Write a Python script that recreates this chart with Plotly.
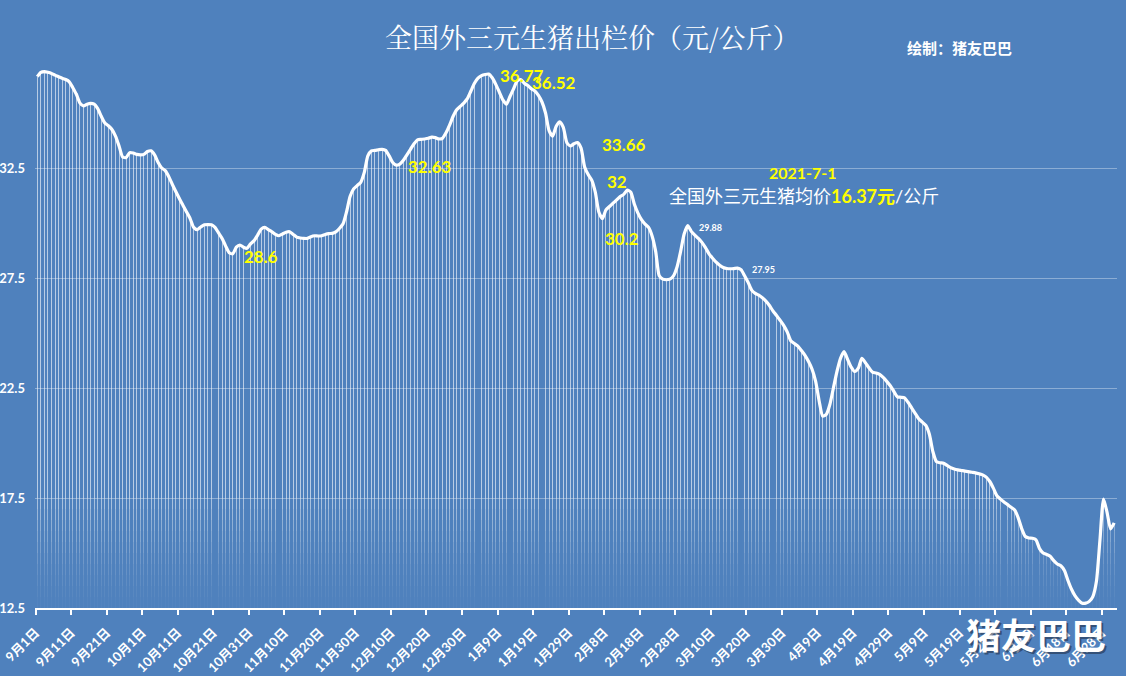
import plotly.graph_objects as go

# ---------------- data ----------------
tick_labels = ["9月1日", "9月11日", "9月21日", "10月1日", "10月11日", "10月21日", "10月31日",
               "11月10日", "11月20日", "11月30日", "12月10日", "12月20日", "12月30日",
               "1月9日", "1月19日", "1月29日", "2月8日", "2月18日", "2月28日",
               "3月10日", "3月20日", "3月30日", "4月9日", "4月19日", "4月29日",
               "5月9日", "5月19日", "5月29日", "6月8日", "6月18日", "6月28日"]

# daily prices 2020-09-01 .. 2021-07-01 (yuan / kg)
prices = [
    36.65, 36.85, 36.88, 36.85, 36.80, 36.72, 36.65, 36.58, 36.52, 36.42,
    36.15, 35.85, 35.45, 35.32, 35.40, 35.44, 35.40, 35.20, 34.85, 34.55,
    34.42, 34.25, 33.95, 33.50, 33.00, 32.98, 33.20, 33.18, 33.12, 33.10,
    33.12, 33.25, 33.28, 33.10, 32.75, 32.50, 32.38, 32.10, 31.75, 31.42,
    31.10, 30.80, 30.50, 30.20, 29.80, 29.70, 29.82, 29.92, 29.93, 29.92,
    29.80, 29.55, 29.30, 28.95, 28.65, 28.60, 28.90, 29.00, 28.90, 28.85,
    29.05, 29.20, 29.45, 29.72, 29.80, 29.70, 29.60, 29.48, 29.42, 29.50,
    29.58, 29.60, 29.48, 29.36, 29.32, 29.30, 29.30, 29.38, 29.42, 29.41,
    29.42, 29.48, 29.52, 29.53, 29.60, 29.75, 29.95, 30.50, 31.20, 31.55,
    31.70, 31.85, 32.30, 33.05, 33.28, 33.30, 33.33, 33.35, 33.30, 33.05,
    32.75, 32.63, 32.68, 32.85, 33.10, 33.35, 33.60, 33.78, 33.80, 33.82,
    33.85, 33.90, 33.88, 33.82, 33.85, 34.10, 34.45, 34.85, 35.15, 35.30,
    35.45, 35.65, 36.00, 36.35, 36.58, 36.70, 36.75, 36.77, 36.60, 36.30,
    35.95, 35.60, 35.40, 35.75, 36.10, 36.45, 36.52, 36.35, 36.25, 36.10,
    36.00, 35.80, 35.50, 35.00, 34.20, 33.95, 34.40, 34.60, 34.35, 33.65,
    33.50, 33.60, 33.66, 33.40, 32.55, 32.20, 31.95, 31.40, 30.50, 30.20,
    30.60, 30.75, 30.90, 31.05, 31.20, 31.30, 31.50, 31.40, 30.85, 30.45,
    30.15, 29.95, 29.80, 29.40, 28.70, 27.60, 27.45, 27.42, 27.45, 27.60,
    28.00, 28.70, 29.50, 29.88, 29.62, 29.45, 29.30, 29.12, 28.88, 28.60,
    28.40, 28.22, 28.08, 27.98, 27.93, 27.92, 27.93, 27.95, 27.88, 27.60,
    27.30, 26.95, 26.80, 26.72, 26.60, 26.45, 26.25, 26.00, 25.80, 25.58,
    25.35, 25.05, 24.65, 24.52, 24.40, 24.20, 23.98, 23.70, 23.35, 22.80,
    21.90, 21.22, 21.30, 21.75, 22.50, 23.25, 23.85, 24.15, 23.80, 23.45,
    23.25, 23.40, 23.85, 23.65, 23.42, 23.22, 23.18, 23.12, 22.98, 22.80,
    22.60, 22.35, 22.10, 22.08, 22.05, 21.85, 21.60, 21.35, 21.10, 20.95,
    20.80, 20.40, 19.60, 19.15, 19.10, 19.08, 18.98, 18.88, 18.82, 18.78,
    18.75, 18.72, 18.70, 18.67, 18.64, 18.60, 18.55, 18.45, 18.25, 17.95,
    17.60, 17.45, 17.32, 17.20, 17.08, 16.95, 16.60, 16.10, 15.75, 15.68,
    15.67, 15.60, 15.20, 15.00, 14.93, 14.85, 14.65, 14.50, 14.42, 14.20,
    13.75, 13.35, 13.05, 12.85, 12.72, 12.72, 12.80, 13.02, 13.70, 15.60,
    17.45, 16.85, 16.10, 16.37,
]

y_ticks = [12.5, 17.5, 22.5, 27.5, 32.5]

big_labels = ["36.77", "36.52", "32.63", "28.6", "33.66", "32", "30.2"]
small_labels = ["29.88", "27.95"]

# ---------------- figure ----------------
BG = "#4F81BD"
W, H = 1126, 676
L, R, T, B = 35, 9, 60, 68
PW, PH = W - L - R, H - T - B
Y0, Y1 = 12.5, 12.5 + PH / 22.0

days = list(range(len(prices)))

fig = go.Figure()

# drop lines with fading bottom part
levels = [12.5, 13.0, 13.5, 14.0, 14.5, 15.0, 15.5, 16.0, 16.5, 17.0, 17.5]
alphas = [0.03, 0.06, 0.10, 0.14, 0.19, 0.25, 0.31, 0.37, 0.43, 0.50]
BW = 0.27
for lo, hi, a in zip(levels[:-1], levels[1:], alphas):
    hts = [max(0.0, min(v, hi) - lo) for v in prices]
    fig.add_trace(go.Bar(x=days, y=hts, base=lo, width=BW,
                         marker=dict(color=f"rgba(255,255,255,{a})", line=dict(width=0)),
                         hoverinfo="skip", showlegend=False))
top_lo = levels[-1]
hts = [max(0.0, v - top_lo) for v in prices]
fig.add_trace(go.Bar(x=days, y=hts, base=top_lo, width=BW,
                     marker=dict(color="rgba(255,255,255,0.6)", line=dict(width=0)),
                     hoverinfo="skip", showlegend=False))

fig.add_trace(go.Scatter(x=days, y=prices, mode="lines",
                         line=dict(color="white", width=3.2, shape="spline", smoothing=0.6),
                         hoverinfo="skip", showlegend=False))


def px(x, y):
    return (x - L) / PW, (H - B - y) / PH


FONT = "Lato, Noto Sans CJK SC, sans-serif"
ann = []


def add_text(x, y, text, size, color="white", family=FONT, **kw):
    ax, ay = px(x, y)
    ann.append(dict(x=ax, y=ay, xref="paper", yref="paper", text=text, showarrow=False,
                    font=dict(size=size, color=color, family=family),
                    xanchor="center", yanchor="middle", **kw))


add_text(592, 36, "全国外三元生猪出栏价（元/公斤）", 27,
         family="Noto Serif CJK SC, Noto Sans CJK SC, serif")
add_text(959, 48, "<b>绘制：猪友巴巴</b>", 15, family="Noto Sans CJK SC, sans-serif")

big_pos = [(522, 76), (554, 82), (430, 166), (261, 256), (624, 144), (617, 181), (622, 238)]
for (x, y), t in zip(big_pos, big_labels):
    add_text(x, y, f"<b>{t}</b>", 17, color="#FFFF00")
small_pos = [(710, 227), (763, 269)]
for (x, y), t in zip(small_pos, small_labels):
    add_text(x, y, f"<b>{t}</b>", 9)

add_text(803, 172, "<b>2021-7-1</b>", 16, color="#FFFF00")
add_text(804, 196, "全国外三元生猪均价<span style='color:#FFFF00'><b>16.37元</b></span>/公斤", 18)

# watermark with shadow
add_text(1038, 635, "<b>猪友巴巴</b>", 35, color="rgba(30,40,60,0.55)",
         family="Noto Sans CJK SC, sans-serif")
add_text(1036, 633, "<b>猪友巴巴</b>", 35, family="Noto Sans CJK SC, sans-serif")

tick_vals = [i * 10 - 0.5 for i in range(len(tick_labels))]

fig.update_layout(
    width=W, height=H,
    margin=dict(l=L, r=R, t=T, b=B, pad=0, autoexpand=False),
    paper_bgcolor=BG, plot_bgcolor=BG,
    barmode="overlay", bargap=0,
    annotations=ann,
    font=dict(family=FONT, color="white"),
    xaxis=dict(range=[-0.65, -0.65 + PW / 3.554], tickvals=tick_vals, ticktext=tick_labels,
               tickangle=-45, tickfont=dict(size=13, color="white", family=FONT, weight="bold"),
               showgrid=False, zeroline=False, showline=True, linecolor="white", linewidth=1.5,
               ticks="outside", ticklen=5, tickcolor="white", tickwidth=1.5,
               ticklabelstandoff=5, automargin=False),
    yaxis=dict(range=[Y0, Y1], tickvals=y_ticks, ticktext=[f"{v}" for v in y_ticks],
               tickfont=dict(size=13, color="white", family=FONT, weight="bold"),
               showgrid=True, gridcolor="rgba(255,255,255,0.35)", gridwidth=1,
               zeroline=False, showline=False, ticks="", ticklabelstandoff=9,
               automargin=False),
)

fig.write_html("out.html")
